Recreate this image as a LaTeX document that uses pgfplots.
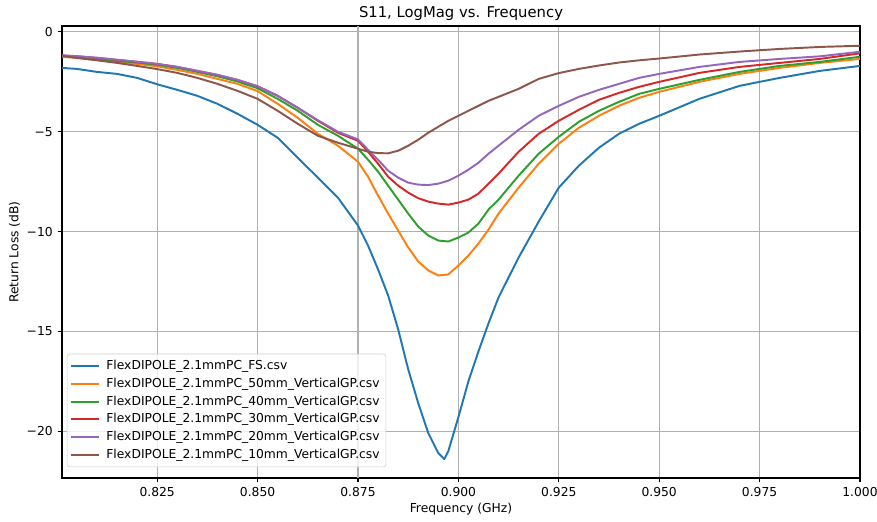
\documentclass[border=0pt]{standalone}
\usepackage{fontspec}
\setmainfont{DejaVu Sans}
\usepackage{pgfplots}
\pgfplotsset{compat=1.18}
\definecolor{c0}{HTML}{1F77B4}
\definecolor{c1}{HTML}{FF7F0E}
\definecolor{c2}{HTML}{2CA02C}
\definecolor{c3}{HTML}{D62728}
\definecolor{c4}{HTML}{9467BD}
\definecolor{c5}{HTML}{8C564B}
\begin{document}
\begin{tikzpicture}
\begin{axis}[
  name=ax, set layers, axis on top=false,
  scale only axis, width=574.56bp, height=325.44bp,
  xmin=0.8013, xmax=1.0, ymin=-22.35, ymax=0.3,
  xtick={0.825,0.85,0.9,0.925,0.95,0.975,1.0},
  xticklabels={0.825,0.850,0.900,0.925,0.950,0.975,1.000},
  extra x ticks={0.875}, extra x tick labels={0.875},
  extra x tick style={grid=none},
  ytick={-20,-15,-10,-5,0},
  yticklabels={−20,−15,−10,−5,0},
  grid=major, grid style={color=black!31, line width=0.75pt},
  axis line style={line width=0.75pt},
  tick style={black, line width=0.75pt}, tick align=outside, major tick length=3.2pt,
  tick pos=left,
  ticklabel style={font=\fontsize{8.9}{10.5}\selectfont},
  label style={font=\fontsize{8.9}{10.5}\selectfont},
  xlabel={Frequency (GHz)}, ylabel={Return Loss (dB)},
  xlabel style={at={(axis description cs:0.5,-0.077)}, anchor=base},
  ylabel style={yshift=-2pt},
  title={S11, LogMag vs. Frequency},
  title style={font=\fontsize{10.7}{12.5}\selectfont, yshift=-5.5pt},
  every axis plot/.append style={line width=1.4pt, line join=round},
  legend cell align=left,
  legend style={at={(0.006,0.024)}, anchor=south west, draw=black!20, rounded corners=2pt,
    fill=white, fill opacity=0.8, text opacity=1, font=\fontsize{8.9}{10.5}\selectfont,
    inner sep=2.5pt, row sep=0.6pt},
  legend image code/.code={\draw[#1] (0pt,0pt) -- (20pt,0pt); \path (22.5pt,0pt);},
]
\draw[black!31, line width=0.75pt] (axis cs:0.875,-22.35) -- (axis cs:0.875,0.3);
\addplot[c0] coordinates {
(0.8013,-1.80)(0.805,-1.85)(0.81,-2.0)(0.815,-2.1)(0.82,-2.3)(0.825,-2.62)(0.83,-2.9)(0.835,-3.2)(0.84,-3.6)(0.845,-4.1)(0.85,-4.65)(0.855,-5.3)(0.86,-6.3)(0.865,-7.3)(0.87,-8.3)(0.875,-9.7)(0.8775,-10.7)(0.88,-11.9)(0.8825,-13.2)(0.885,-14.9)(0.8875,-16.9)(0.89,-18.6)(0.8925,-20.1)(0.895,-21.1)(0.8965,-21.4)(0.8975,-21.0)(0.9,-19.3)(0.9025,-17.5)(0.905,-16.0)(0.9075,-14.6)(0.91,-13.3)(0.915,-11.3)(0.92,-9.5)(0.925,-7.8)(0.93,-6.7)(0.935,-5.8)(0.94,-5.1)(0.945,-4.6)(0.95,-4.2)(0.96,-3.35)(0.97,-2.7)(0.98,-2.3)(0.99,-1.95)(1.0,-1.7)};
\addlegendentry{FlexDIPOLE\_2.1mmPC\_FS.csv}
\addplot[c1] coordinates {
(0.8013,-1.24)(0.805,-1.3)(0.81,-1.4)(0.815,-1.5)(0.82,-1.6)(0.825,-1.72)(0.83,-1.9)(0.835,-2.1)(0.84,-2.35)(0.845,-2.6)(0.85,-2.96)(0.855,-3.6)(0.86,-4.3)(0.865,-5.1)(0.87,-5.7)(0.875,-6.5)(0.8775,-7.25)(0.88,-8.2)(0.8825,-9.1)(0.885,-9.95)(0.8875,-10.8)(0.89,-11.5)(0.8925,-11.95)(0.895,-12.2)(0.8975,-12.15)(0.9,-11.7)(0.9025,-11.2)(0.905,-10.6)(0.9075,-9.9)(0.91,-9.1)(0.915,-7.8)(0.92,-6.6)(0.925,-5.6)(0.93,-4.8)(0.935,-4.2)(0.94,-3.7)(0.945,-3.3)(0.95,-3.0)(0.96,-2.5)(0.97,-2.1)(0.98,-1.8)(0.99,-1.55)(1.0,-1.35)};
\addlegendentry{FlexDIPOLE\_2.1mmPC\_50mm\_VerticalGP.csv}
\addplot[c2] coordinates {
(0.8013,-1.2)(0.805,-1.26)(0.81,-1.35)(0.815,-1.45)(0.82,-1.53)(0.825,-1.64)(0.83,-1.8)(0.835,-2.0)(0.84,-2.22)(0.845,-2.48)(0.85,-2.82)(0.855,-3.35)(0.86,-3.95)(0.865,-4.65)(0.87,-5.2)(0.875,-5.85)(0.8775,-6.4)(0.88,-7.0)(0.8825,-7.7)(0.885,-8.4)(0.8875,-9.1)(0.89,-9.75)(0.8925,-10.2)(0.895,-10.45)(0.8975,-10.5)(0.9,-10.3)(0.9025,-10.05)(0.905,-9.6)(0.9075,-8.9)(0.91,-8.4)(0.915,-7.2)(0.92,-6.1)(0.925,-5.25)(0.93,-4.5)(0.935,-3.95)(0.94,-3.5)(0.945,-3.1)(0.95,-2.85)(0.96,-2.4)(0.97,-2.0)(0.98,-1.7)(0.99,-1.5)(1.0,-1.24)};
\addlegendentry{FlexDIPOLE\_2.1mmPC\_40mm\_VerticalGP.csv}
\addplot[c3] coordinates {
(0.8013,-1.18)(0.805,-1.22)(0.81,-1.3)(0.815,-1.4)(0.82,-1.5)(0.825,-1.6)(0.83,-1.75)(0.835,-1.95)(0.84,-2.15)(0.845,-2.4)(0.85,-2.72)(0.855,-3.2)(0.86,-3.8)(0.865,-4.45)(0.87,-5.05)(0.875,-5.45)(0.8775,-6.0)(0.88,-6.6)(0.8825,-7.25)(0.885,-7.7)(0.8875,-8.05)(0.89,-8.33)(0.8925,-8.5)(0.895,-8.6)(0.8975,-8.65)(0.9,-8.55)(0.9025,-8.4)(0.905,-8.1)(0.9075,-7.6)(0.91,-7.1)(0.915,-6.0)(0.92,-5.1)(0.925,-4.45)(0.93,-3.9)(0.935,-3.4)(0.94,-3.05)(0.945,-2.75)(0.95,-2.5)(0.96,-2.05)(0.97,-1.75)(0.98,-1.55)(0.99,-1.35)(1.0,-1.07)};
\addlegendentry{FlexDIPOLE\_2.1mmPC\_30mm\_VerticalGP.csv}
\addplot[c4] coordinates {
(0.8013,-1.17)(0.805,-1.21)(0.81,-1.29)(0.815,-1.39)(0.82,-1.49)(0.825,-1.6)(0.83,-1.75)(0.835,-1.95)(0.84,-2.15)(0.845,-2.4)(0.85,-2.72)(0.855,-3.2)(0.86,-3.8)(0.865,-4.42)(0.87,-5.0)(0.875,-5.38)(0.8775,-5.9)(0.88,-6.4)(0.8825,-6.95)(0.885,-7.3)(0.8875,-7.55)(0.89,-7.65)(0.8925,-7.67)(0.895,-7.6)(0.8975,-7.45)(0.9,-7.2)(0.9025,-6.9)(0.905,-6.55)(0.9075,-6.1)(0.91,-5.7)(0.915,-4.9)(0.92,-4.2)(0.925,-3.7)(0.93,-3.25)(0.935,-2.9)(0.94,-2.6)(0.945,-2.3)(0.95,-2.1)(0.96,-1.75)(0.97,-1.5)(0.98,-1.35)(0.99,-1.22)(1.0,-0.99)};
\addlegendentry{FlexDIPOLE\_2.1mmPC\_20mm\_VerticalGP.csv}
\addplot[c5] coordinates {
(0.8013,-1.2)(0.805,-1.3)(0.81,-1.42)(0.815,-1.55)(0.82,-1.7)(0.825,-1.86)(0.83,-2.05)(0.835,-2.3)(0.84,-2.6)(0.845,-2.95)(0.85,-3.35)(0.855,-3.95)(0.86,-4.6)(0.865,-5.2)(0.87,-5.55)(0.875,-5.85)(0.8775,-6.0)(0.88,-6.07)(0.8825,-6.08)(0.885,-5.95)(0.8875,-5.7)(0.89,-5.4)(0.8925,-5.05)(0.895,-4.75)(0.8975,-4.45)(0.9,-4.2)(0.9025,-3.95)(0.905,-3.7)(0.9075,-3.45)(0.91,-3.25)(0.915,-2.85)(0.92,-2.35)(0.925,-2.06)(0.93,-1.85)(0.935,-1.68)(0.94,-1.53)(0.945,-1.42)(0.95,-1.33)(0.96,-1.13)(0.97,-0.98)(0.98,-0.85)(0.99,-0.75)(1.0,-0.69)};
\addlegendentry{FlexDIPOLE\_2.1mmPC\_10mm\_VerticalGP.csv}
\end{axis}
\pgfresetboundingbox
\useasboundingbox ([xshift=-44.64bp,yshift=-30.96bp]ax.south west) rectangle ([xshift=12.24bp,yshift=18.72bp]ax.north east);
\end{tikzpicture}
\end{document}
